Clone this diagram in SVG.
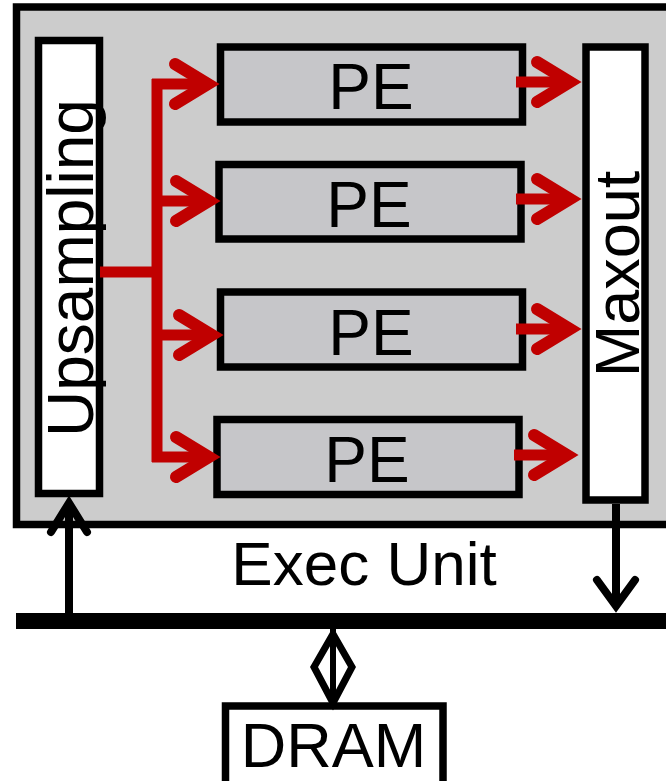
<svg xmlns="http://www.w3.org/2000/svg" width="666" height="781" viewBox="0 0 666 781">
<style>
.box{stroke:#000;stroke-width:7.5}
.lbl{font-family:"Liberation Sans",Arial,sans-serif;fill:#000}
.red{fill:none;stroke:#c00000;stroke-width:11}
.redhead{fill:none;stroke:#c00000;stroke-width:12;stroke-linecap:round;stroke-linejoin:miter}
.blk{fill:none;stroke:#000;stroke-width:8}
.blkhead{fill:none;stroke:#000;stroke-width:8;stroke-linecap:round;stroke-linejoin:miter}
</style>
<rect width="666" height="781" fill="#fff"/>
<g id="exec-unit">
<rect class="box" x="16.5" y="7" width="700" height="517.5" fill="#cccccc"/>
<text class="lbl" x="364" y="585" font-size="62" text-anchor="middle">Exec Unit</text>
</g>
<g id="upsampling">
<rect class="box" x="38.5" y="40.5" width="61" height="453" fill="#fff"/>
<text class="lbl" font-size="64" text-anchor="middle" transform="translate(93,268) rotate(-90)">Upsampling</text>
</g>
<g id="pe1">
<rect class="box" x="220.5" y="47" width="302" height="75" fill="#c6c6c9"/>
<text class="lbl" x="371" y="109" font-size="64" text-anchor="middle">PE</text>
</g>
<g id="pe2">
<rect class="box" x="219" y="164.5" width="302" height="74.5" fill="#c6c6c9"/>
<text class="lbl" x="369" y="227" font-size="64" text-anchor="middle">PE</text>
</g>
<g id="pe3">
<rect class="box" x="220.5" y="292" width="302" height="75" fill="#c6c6c9"/>
<text class="lbl" x="371" y="355" font-size="64" text-anchor="middle">PE</text>
</g>
<g id="pe4">
<rect class="box" x="217" y="419.5" width="302" height="75" fill="#c6c6c9"/>
<text class="lbl" x="367" y="482" font-size="64" text-anchor="middle">PE</text>
</g>
<g id="maxout">
<rect class="box" x="586" y="47" width="59" height="453" fill="#fff"/>
<text class="lbl" font-size="63" text-anchor="middle" transform="translate(639,274) rotate(-90)">Maxout</text>
</g>
<g id="bus">
<line x1="16" y1="621" x2="666" y2="621" stroke="#000" stroke-width="16"/>
</g>
<g id="dram">
<rect class="box" x="225.5" y="706" width="217.5" height="100" fill="#fff"/>
<text class="lbl" x="333.5" y="767" font-size="63" text-anchor="middle">DRAM</text>
</g>
<g id="connectors">
<path class="red" d="M100,272 H157 M157,79 V462 M152,84 H208 M152,201 H209 M152,335 H212 M152,457 H209"/>
<polyline class="redhead" points="175,64 208,84 175,104"/>
<polyline class="redhead" points="176,181 209,201 176,221"/>
<polyline class="redhead" points="179,315 212,335 179,355"/>
<polyline class="redhead" points="176,437 209,457 176,477"/>
<path class="red" d="M516,82 H570 M516,199 H570 M516,329 H570 M514,455 H567"/>
<polyline class="redhead" points="537,62 570,82 537,102"/>
<polyline class="redhead" points="537,179 570,199 537,219"/>
<polyline class="redhead" points="537,309 570,329 537,349"/>
<polyline class="redhead" points="534,435 567,455 534,475"/>
<line class="blk" x1="69" y1="613" x2="69" y2="505"/>
<polyline class="blkhead" points="51,532 69,503 87,532"/>
<line class="blk" x1="616" y1="504" x2="616" y2="606"/>
<polyline class="blkhead" points="597,580 616,606 635,580"/>
<polygon points="333,634 314,667 333,703 352,667" fill="none" stroke="#000" stroke-width="7" stroke-linejoin="miter"/>
<line x1="333" y1="629" x2="333" y2="706" stroke="#000" stroke-width="6"/>
</g>
</svg>
